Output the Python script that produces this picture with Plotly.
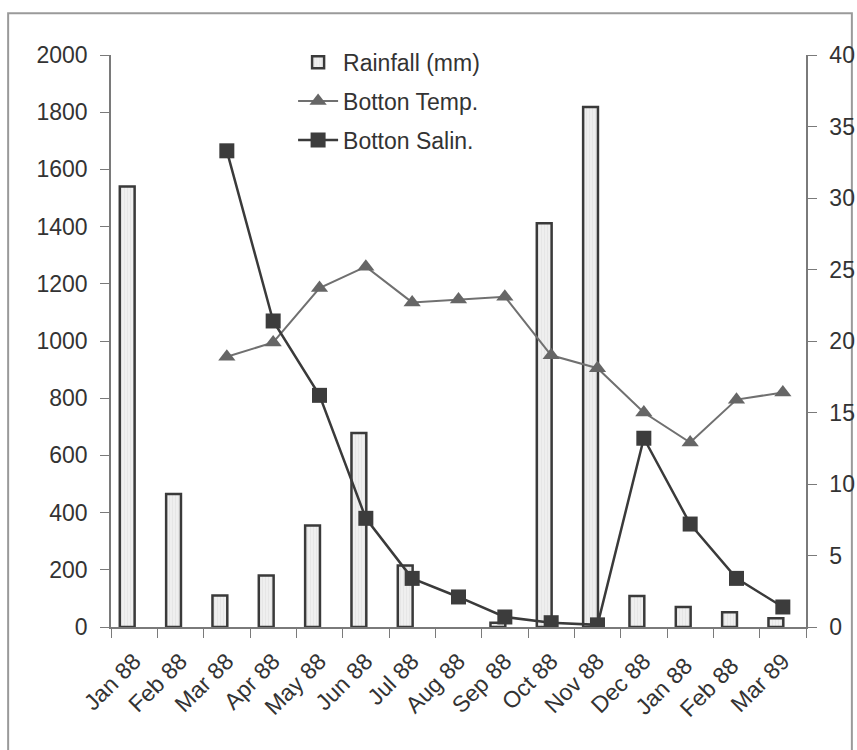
import plotly.graph_objects as go

months = ["Jan 88", "Feb 88", "Mar 88", "Apr 88", "May 88", "Jun 88", "Jul 88",
          "Aug 88", "Sep 88", "Oct 88", "Nov 88", "Dec 88", "Jan 88 ", "Feb 88 ", "Mar 89"]
rainfall = [1540, 465, 110, 180, 355, 678, 215, None, 15, 1412, 1818, 108, 70, 52, 31]
temp = [None, None, 18.9, 19.9, 23.7, 25.2, 22.7, 22.9, 23.1, 19.0, 18.1, 15.0, 12.9, 15.9, 16.4]
salin = [None, None, 33.3, 21.4, 16.2, 7.6, 3.4, 2.1, 0.7, 0.3, 0.15, 13.2, 7.2, 3.4, 1.4]

left_ticks = [0, 200, 400, 600, 800, 1000, 1200, 1400, 1600, 1800, 2000]
right_ticks = [0, 5, 10, 15, 20, 25, 30, 35, 40]

FONT = "Liberation Sans, Arial, Helvetica, sans-serif"
AXIS = "#7a7a7a"

fig = go.Figure()
fig.add_trace(go.Bar(
    x=months, y=rainfall, name="Rainfall (mm)", legendgroup="a",
    offset=-0.31, width=0.32,
    marker=dict(color="#ececec", line=dict(color="#3a3a3a", width=2.5),
                pattern=dict(shape="|", fgcolor="#c4c4c4", bgcolor="#efefef", size=3, solidity=0.15)),
    yaxis="y",
))
fig.add_trace(go.Scatter(
    x=months, y=temp, name="Botton Temp.", legendgroup="b", mode="lines+markers",
    line=dict(color="#707070", width=2),
    marker=dict(symbol="triangle-up", size=15, color="#666666"),
    yaxis="y2",
))
fig.add_trace(go.Scatter(
    x=months, y=salin, name="Botton Salin.", legendgroup="c", mode="lines+markers",
    line=dict(color="#3a3a3a", width=2.5),
    marker=dict(symbol="square", size=15, color="#3c3c3c"),
    yaxis="y2",
))

fig.update_layout(
    width=857, height=750,
    margin=dict(l=111, r=51, t=55, b=123, autoexpand=False),
    paper_bgcolor="white", plot_bgcolor="white",
    font=dict(family=FONT, size=21, color="#333333"),
    showlegend=True,
    legend=dict(x=0.262, y=1.025, xanchor="left", yanchor="top",
                bgcolor="rgba(0,0,0,0)", font=dict(size=23, color="#333333"),
                traceorder="grouped", tracegroupgap=6, itemwidth=40),
    xaxis=dict(type="category", tickangle=-45, tickson="boundaries",
               ticks="outside", ticklen=9, tickcolor=AXIS,
               showline=True, linecolor=AXIS, linewidth=1.5, automargin=False,
               showgrid=False, tickfont=dict(size=23, color="#333333"),
               ticklabelstandoff=10, range=[-0.5, 14.5]),
    yaxis=dict(range=[0, 2000], tickvals=left_ticks, ticks="outside", ticklen=9,
               tickcolor=AXIS, showline=True, linecolor=AXIS, linewidth=1.5,
               showgrid=False, zeroline=False, tickfont=dict(size=23, color="#333333"),
               ticklabelstandoff=8, automargin=False),
    yaxis2=dict(range=[0, 40], tickvals=right_ticks, overlaying="y", side="right",
                ticks="outside", ticklen=9, tickcolor=AXIS, showline=True,
                linecolor=AXIS, linewidth=1.5, showgrid=False, zeroline=False,
                tickfont=dict(size=23, color="#333333"), ticklabelstandoff=8,
                automargin=False),
    shapes=[dict(type="rect", xref="paper", yref="paper",
                 x0=-0.148, x1=1.066, y0=-0.3, y1=1.073,
                 line=dict(color="#9a9a9a", width=2), fillcolor="rgba(0,0,0,0)", layer="below")],
)

fig.write_html("out.html")
